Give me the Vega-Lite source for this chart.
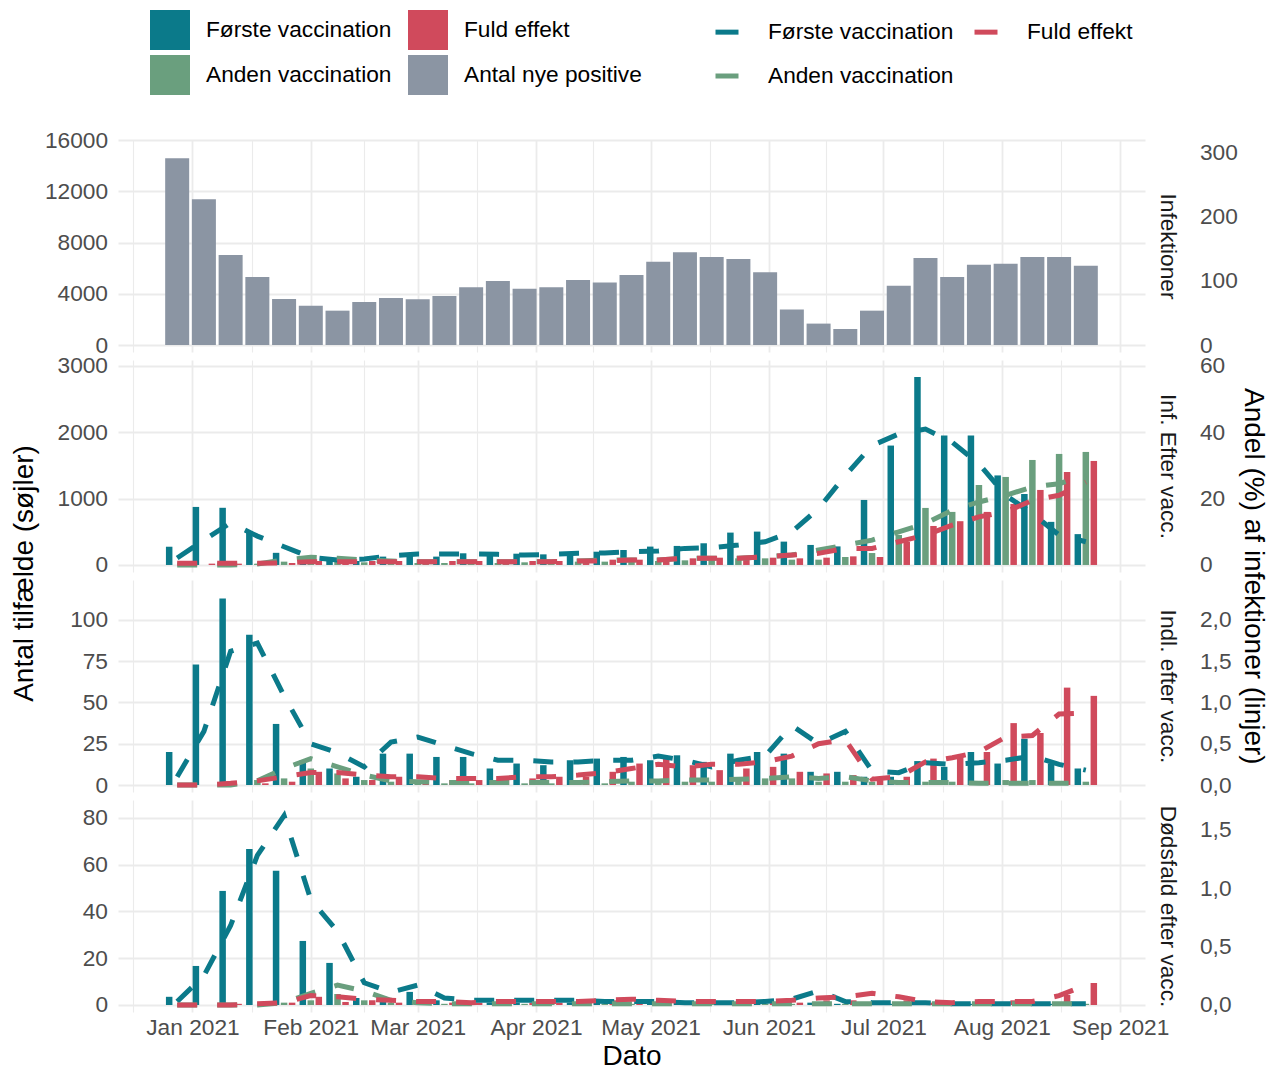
{
"$schema": "https://vega.github.io/schema/vega-lite/v6.json",
"background": "white",
"padding": {"left": 10, "top": 10, "right": 5, "bottom": 0},
"spacing": 8,
"bounds": "flush",
"title": {"text": "Andel (%) af infektioner (linjer)", "orient": "right", "anchor": "middle", "fontSize": 28, "fontWeight": "normal", "font": "Liberation Sans", "color": "#000000", "offset": 2, "dx": 36},
"resolve": {"scale": {"color": "shared", "stroke": "shared", "y": "independent", "x": "independent"}, "legend": {"color": "shared", "stroke": "shared"}},
"config": {
  "view": {"stroke": null},
  "font": "Liberation Sans",
  "axis": {"labelFont": "Liberation Sans", "labelFontSize": 22.7, "labelColor": "#4D4D4D", "domain": false, "ticks": false, "tickSize": 0, "gridColor": "#EBEBEB", "titleFont": "Liberation Sans", "titleFontWeight": "normal", "titleColor": "#000000", "labelOverlap": false, "labelFlush": false}
},
"datasets": {
"bars": [
{"p":1,"c":"N","d":"2020-12-28","v":14570},{"p":1,"c":"N","d":"2021-01-04","v":11370},{"p":1,"c":"N","d":"2021-01-11","v":7030},{"p":1,"c":"N","d":"2021-01-18","v":5310},{"p":1,"c":"N","d":"2021-01-25","v":3590},{"p":1,"c":"N","d":"2021-02-01","v":3070},{"p":1,"c":"N","d":"2021-02-08","v":2680},{"p":1,"c":"N","d":"2021-02-15","v":3360},{"p":1,"c":"N","d":"2021-02-22","v":3670},{"p":1,"c":"N","d":"2021-03-01","v":3570},{"p":1,"c":"N","d":"2021-03-08","v":3830},{"p":1,"c":"N","d":"2021-03-15","v":4500},{"p":1,"c":"N","d":"2021-03-22","v":5000},{"p":1,"c":"N","d":"2021-03-29","v":4400},{"p":1,"c":"N","d":"2021-04-05","v":4500},{"p":1,"c":"N","d":"2021-04-12","v":5070},{"p":1,"c":"N","d":"2021-04-19","v":4870},{"p":1,"c":"N","d":"2021-04-26","v":5460},{"p":1,"c":"N","d":"2021-05-03","v":6500},{"p":1,"c":"N","d":"2021-05-10","v":7230},{"p":1,"c":"N","d":"2021-05-17","v":6870},{"p":1,"c":"N","d":"2021-05-24","v":6710},{"p":1,"c":"N","d":"2021-05-31","v":5670},{"p":1,"c":"N","d":"2021-06-07","v":2780},{"p":1,"c":"N","d":"2021-06-14","v":1670},{"p":1,"c":"N","d":"2021-06-21","v":1250},{"p":1,"c":"N","d":"2021-06-28","v":2680},{"p":1,"c":"N","d":"2021-07-05","v":4630},{"p":1,"c":"N","d":"2021-07-12","v":6790},{"p":1,"c":"N","d":"2021-07-19","v":5310},{"p":1,"c":"N","d":"2021-07-26","v":6270},{"p":1,"c":"N","d":"2021-08-02","v":6350},{"p":1,"c":"N","d":"2021-08-09","v":6870},{"p":1,"c":"N","d":"2021-08-16","v":6870},{"p":1,"c":"N","d":"2021-08-23","v":6190},

{"p":2,"c":"F","d":"2020-12-28","v":275},{"p":2,"c":"F","d":"2021-01-04","v":875},{"p":2,"c":"F","d":"2021-01-11","v":862},{"p":2,"c":"F","d":"2021-01-18","v":510},{"p":2,"c":"F","d":"2021-01-25","v":183},{"p":2,"c":"F","d":"2021-02-01","v":100},{"p":2,"c":"F","d":"2021-02-08","v":75},{"p":2,"c":"F","d":"2021-02-15","v":60},{"p":2,"c":"F","d":"2021-02-22","v":126},{"p":2,"c":"F","d":"2021-03-01","v":176},{"p":2,"c":"F","d":"2021-03-08","v":126},{"p":2,"c":"F","d":"2021-03-15","v":176},{"p":2,"c":"F","d":"2021-03-22","v":150},{"p":2,"c":"F","d":"2021-03-29","v":170},{"p":2,"c":"F","d":"2021-04-05","v":160},{"p":2,"c":"F","d":"2021-04-12","v":186},{"p":2,"c":"F","d":"2021-04-19","v":200},{"p":2,"c":"F","d":"2021-04-26","v":226},{"p":2,"c":"F","d":"2021-05-03","v":277},{"p":2,"c":"F","d":"2021-05-10","v":287},{"p":2,"c":"F","d":"2021-05-17","v":327},{"p":2,"c":"F","d":"2021-05-24","v":488},{"p":2,"c":"F","d":"2021-05-31","v":503},{"p":2,"c":"F","d":"2021-06-07","v":352},{"p":2,"c":"F","d":"2021-06-14","v":302},{"p":2,"c":"F","d":"2021-06-21","v":280},{"p":2,"c":"F","d":"2021-06-28","v":980},{"p":2,"c":"F","d":"2021-07-05","v":1800},{"p":2,"c":"F","d":"2021-07-12","v":2835},{"p":2,"c":"F","d":"2021-07-19","v":1950},{"p":2,"c":"F","d":"2021-07-26","v":1950},{"p":2,"c":"F","d":"2021-08-02","v":1350},{"p":2,"c":"F","d":"2021-08-09","v":1070},{"p":2,"c":"F","d":"2021-08-16","v":650},{"p":2,"c":"F","d":"2021-08-23","v":465},

{"p":2,"c":"A","d":"2020-12-28","v":0},{"p":2,"c":"A","d":"2021-01-04","v":0},{"p":2,"c":"A","d":"2021-01-11","v":5},{"p":2,"c":"A","d":"2021-01-18","v":20},{"p":2,"c":"A","d":"2021-01-25","v":50},{"p":2,"c":"A","d":"2021-02-01","v":90},{"p":2,"c":"A","d":"2021-02-08","v":60},{"p":2,"c":"A","d":"2021-02-15","v":40},{"p":2,"c":"A","d":"2021-02-22","v":30},{"p":2,"c":"A","d":"2021-03-01","v":30},{"p":2,"c":"A","d":"2021-03-08","v":30},{"p":2,"c":"A","d":"2021-03-15","v":30},{"p":2,"c":"A","d":"2021-03-22","v":30},{"p":2,"c":"A","d":"2021-03-29","v":40},{"p":2,"c":"A","d":"2021-04-05","v":40},{"p":2,"c":"A","d":"2021-04-12","v":50},{"p":2,"c":"A","d":"2021-04-19","v":50},{"p":2,"c":"A","d":"2021-04-26","v":50},{"p":2,"c":"A","d":"2021-05-03","v":60},{"p":2,"c":"A","d":"2021-05-10","v":70},{"p":2,"c":"A","d":"2021-05-17","v":80},{"p":2,"c":"A","d":"2021-05-24","v":100},{"p":2,"c":"A","d":"2021-05-31","v":100},{"p":2,"c":"A","d":"2021-06-07","v":80},{"p":2,"c":"A","d":"2021-06-14","v":80},{"p":2,"c":"A","d":"2021-06-21","v":120},{"p":2,"c":"A","d":"2021-06-28","v":180},{"p":2,"c":"A","d":"2021-07-05","v":452},{"p":2,"c":"A","d":"2021-07-12","v":860},{"p":2,"c":"A","d":"2021-07-19","v":800},{"p":2,"c":"A","d":"2021-07-26","v":1206},{"p":2,"c":"A","d":"2021-08-02","v":1327},{"p":2,"c":"A","d":"2021-08-09","v":1583},{"p":2,"c":"A","d":"2021-08-16","v":1674},{"p":2,"c":"A","d":"2021-08-23","v":1704},

{"p":2,"c":"E","d":"2020-12-28","v":20},{"p":2,"c":"E","d":"2021-01-04","v":20},{"p":2,"c":"E","d":"2021-01-11","v":20},{"p":2,"c":"E","d":"2021-01-18","v":20},{"p":2,"c":"E","d":"2021-01-25","v":30},{"p":2,"c":"E","d":"2021-02-01","v":60},{"p":2,"c":"E","d":"2021-02-08","v":70},{"p":2,"c":"E","d":"2021-02-15","v":60},{"p":2,"c":"E","d":"2021-02-22","v":60},{"p":2,"c":"E","d":"2021-03-01","v":60},{"p":2,"c":"E","d":"2021-03-08","v":60},{"p":2,"c":"E","d":"2021-03-15","v":60},{"p":2,"c":"E","d":"2021-03-22","v":60},{"p":2,"c":"E","d":"2021-03-29","v":60},{"p":2,"c":"E","d":"2021-04-05","v":60},{"p":2,"c":"E","d":"2021-04-12","v":70},{"p":2,"c":"E","d":"2021-04-19","v":80},{"p":2,"c":"E","d":"2021-04-26","v":80},{"p":2,"c":"E","d":"2021-05-03","v":90},{"p":2,"c":"E","d":"2021-05-10","v":100},{"p":2,"c":"E","d":"2021-05-17","v":110},{"p":2,"c":"E","d":"2021-05-24","v":110},{"p":2,"c":"E","d":"2021-05-31","v":110},{"p":2,"c":"E","d":"2021-06-07","v":100},{"p":2,"c":"E","d":"2021-06-14","v":110},{"p":2,"c":"E","d":"2021-06-21","v":130},{"p":2,"c":"E","d":"2021-06-28","v":120},{"p":2,"c":"E","d":"2021-07-05","v":347},{"p":2,"c":"E","d":"2021-07-12","v":588},{"p":2,"c":"E","d":"2021-07-19","v":660},{"p":2,"c":"E","d":"2021-07-26","v":800},{"p":2,"c":"E","d":"2021-08-02","v":920},{"p":2,"c":"E","d":"2021-08-09","v":1131},{"p":2,"c":"E","d":"2021-08-16","v":1402},{"p":2,"c":"E","d":"2021-08-23","v":1568},

{"p":3,"c":"F","d":"2020-12-28","v":20},{"p":3,"c":"F","d":"2021-01-04","v":73},{"p":3,"c":"F","d":"2021-01-11","v":113},{"p":3,"c":"F","d":"2021-01-18","v":91},{"p":3,"c":"F","d":"2021-01-25","v":37},{"p":3,"c":"F","d":"2021-02-01","v":15},{"p":3,"c":"F","d":"2021-02-08","v":10},{"p":3,"c":"F","d":"2021-02-15","v":5},{"p":3,"c":"F","d":"2021-02-22","v":19},{"p":3,"c":"F","d":"2021-03-01","v":19},{"p":3,"c":"F","d":"2021-03-08","v":17},{"p":3,"c":"F","d":"2021-03-15","v":17},{"p":3,"c":"F","d":"2021-03-22","v":10},{"p":3,"c":"F","d":"2021-03-29","v":13},{"p":3,"c":"F","d":"2021-04-05","v":12},{"p":3,"c":"F","d":"2021-04-12","v":15},{"p":3,"c":"F","d":"2021-04-19","v":16},{"p":3,"c":"F","d":"2021-04-26","v":17},{"p":3,"c":"F","d":"2021-05-03","v":15},{"p":3,"c":"F","d":"2021-05-10","v":18},{"p":3,"c":"F","d":"2021-05-17","v":14},{"p":3,"c":"F","d":"2021-05-24","v":19},{"p":3,"c":"F","d":"2021-05-31","v":20},{"p":3,"c":"F","d":"2021-06-07","v":19},{"p":3,"c":"F","d":"2021-06-14","v":8},{"p":3,"c":"F","d":"2021-06-21","v":8},{"p":3,"c":"F","d":"2021-06-28","v":5},{"p":3,"c":"F","d":"2021-07-05","v":5},{"p":3,"c":"F","d":"2021-07-12","v":14.5},{"p":3,"c":"F","d":"2021-07-19","v":11},{"p":3,"c":"F","d":"2021-07-26","v":20},{"p":3,"c":"F","d":"2021-08-02","v":13},{"p":3,"c":"F","d":"2021-08-09","v":28},{"p":3,"c":"F","d":"2021-08-16","v":13},{"p":3,"c":"F","d":"2021-08-23","v":10},

{"p":3,"c":"A","d":"2020-12-28","v":0},{"p":3,"c":"A","d":"2021-01-04","v":0},{"p":3,"c":"A","d":"2021-01-11","v":1},{"p":3,"c":"A","d":"2021-01-18","v":3},{"p":3,"c":"A","d":"2021-01-25","v":4},{"p":3,"c":"A","d":"2021-02-01","v":10},{"p":3,"c":"A","d":"2021-02-08","v":7},{"p":3,"c":"A","d":"2021-02-15","v":3},{"p":3,"c":"A","d":"2021-02-22","v":2},{"p":3,"c":"A","d":"2021-03-01","v":2},{"p":3,"c":"A","d":"2021-03-08","v":1},{"p":3,"c":"A","d":"2021-03-15","v":1},{"p":3,"c":"A","d":"2021-03-22","v":1},{"p":3,"c":"A","d":"2021-03-29","v":1},{"p":3,"c":"A","d":"2021-04-05","v":1},{"p":3,"c":"A","d":"2021-04-12","v":1},{"p":3,"c":"A","d":"2021-04-19","v":1},{"p":3,"c":"A","d":"2021-04-26","v":2},{"p":3,"c":"A","d":"2021-05-03","v":2},{"p":3,"c":"A","d":"2021-05-10","v":2},{"p":3,"c":"A","d":"2021-05-17","v":2},{"p":3,"c":"A","d":"2021-05-24","v":3},{"p":3,"c":"A","d":"2021-05-31","v":4},{"p":3,"c":"A","d":"2021-06-07","v":4},{"p":3,"c":"A","d":"2021-06-14","v":2},{"p":3,"c":"A","d":"2021-06-21","v":2},{"p":3,"c":"A","d":"2021-06-28","v":2},{"p":3,"c":"A","d":"2021-07-05","v":2},{"p":3,"c":"A","d":"2021-07-12","v":2},{"p":3,"c":"A","d":"2021-07-19","v":2},{"p":3,"c":"A","d":"2021-07-26","v":2},{"p":3,"c":"A","d":"2021-08-02","v":3},{"p":3,"c":"A","d":"2021-08-09","v":3},{"p":3,"c":"A","d":"2021-08-16","v":2},{"p":3,"c":"A","d":"2021-08-23","v":2},

{"p":3,"c":"E","d":"2020-12-28","v":0},{"p":3,"c":"E","d":"2021-01-04","v":0},{"p":3,"c":"E","d":"2021-01-11","v":0},{"p":3,"c":"E","d":"2021-01-18","v":1},{"p":3,"c":"E","d":"2021-01-25","v":2},{"p":3,"c":"E","d":"2021-02-01","v":8},{"p":3,"c":"E","d":"2021-02-08","v":4},{"p":3,"c":"E","d":"2021-02-15","v":3},{"p":3,"c":"E","d":"2021-02-22","v":5},{"p":3,"c":"E","d":"2021-03-01","v":3},{"p":3,"c":"E","d":"2021-03-08","v":3},{"p":3,"c":"E","d":"2021-03-15","v":3},{"p":3,"c":"E","d":"2021-03-22","v":3},{"p":3,"c":"E","d":"2021-03-29","v":4},{"p":3,"c":"E","d":"2021-04-05","v":5},{"p":3,"c":"E","d":"2021-04-12","v":5},{"p":3,"c":"E","d":"2021-04-19","v":8},{"p":3,"c":"E","d":"2021-04-26","v":13},{"p":3,"c":"E","d":"2021-05-03","v":17},{"p":3,"c":"E","d":"2021-05-10","v":12},{"p":3,"c":"E","d":"2021-05-17","v":9},{"p":3,"c":"E","d":"2021-05-24","v":10},{"p":3,"c":"E","d":"2021-05-31","v":11},{"p":3,"c":"E","d":"2021-06-07","v":8},{"p":3,"c":"E","d":"2021-06-14","v":7},{"p":3,"c":"E","d":"2021-06-21","v":6},{"p":3,"c":"E","d":"2021-06-28","v":3},{"p":3,"c":"E","d":"2021-07-05","v":5},{"p":3,"c":"E","d":"2021-07-12","v":16},{"p":3,"c":"E","d":"2021-07-19","v":17},{"p":3,"c":"E","d":"2021-07-26","v":20},{"p":3,"c":"E","d":"2021-08-02","v":37.5},{"p":3,"c":"E","d":"2021-08-09","v":31.5},{"p":3,"c":"E","d":"2021-08-16","v":59},{"p":3,"c":"E","d":"2021-08-23","v":54},

{"p":4,"c":"F","d":"2020-12-28","v":3.5},{"p":4,"c":"F","d":"2021-01-04","v":16.7},{"p":4,"c":"F","d":"2021-01-11","v":48.8},{"p":4,"c":"F","d":"2021-01-18","v":66.7},{"p":4,"c":"F","d":"2021-01-25","v":57.4},{"p":4,"c":"F","d":"2021-02-01","v":27.4},{"p":4,"c":"F","d":"2021-02-08","v":18},{"p":4,"c":"F","d":"2021-02-15","v":3},{"p":4,"c":"F","d":"2021-02-22","v":3.8},{"p":4,"c":"F","d":"2021-03-01","v":5.6},{"p":4,"c":"F","d":"2021-03-08","v":2},{"p":4,"c":"F","d":"2021-03-15","v":1},{"p":4,"c":"F","d":"2021-03-22","v":1},{"p":4,"c":"F","d":"2021-03-29","v":1},{"p":4,"c":"F","d":"2021-04-05","v":1},{"p":4,"c":"F","d":"2021-04-12","v":1},{"p":4,"c":"F","d":"2021-04-19","v":1},{"p":4,"c":"F","d":"2021-04-26","v":0.5},{"p":4,"c":"F","d":"2021-05-03","v":1},{"p":4,"c":"F","d":"2021-05-10","v":1},{"p":4,"c":"F","d":"2021-05-17","v":0.5},{"p":4,"c":"F","d":"2021-05-24","v":0.5},{"p":4,"c":"F","d":"2021-05-31","v":1},{"p":4,"c":"F","d":"2021-06-07","v":1},{"p":4,"c":"F","d":"2021-06-14","v":1},{"p":4,"c":"F","d":"2021-06-21","v":0.5},{"p":4,"c":"F","d":"2021-06-28","v":0},{"p":4,"c":"F","d":"2021-07-05","v":0.5},{"p":4,"c":"F","d":"2021-07-12","v":1},{"p":4,"c":"F","d":"2021-07-19","v":0.5},{"p":4,"c":"F","d":"2021-07-26","v":0.5},{"p":4,"c":"F","d":"2021-08-02","v":0.5},{"p":4,"c":"F","d":"2021-08-09","v":0.5},{"p":4,"c":"F","d":"2021-08-16","v":0.5},{"p":4,"c":"F","d":"2021-08-23","v":0.5},

{"p":4,"c":"A","d":"2020-12-28","v":0},{"p":4,"c":"A","d":"2021-01-04","v":0},{"p":4,"c":"A","d":"2021-01-11","v":0},{"p":4,"c":"A","d":"2021-01-18","v":0},{"p":4,"c":"A","d":"2021-01-25","v":1},{"p":4,"c":"A","d":"2021-02-01","v":2},{"p":4,"c":"A","d":"2021-02-08","v":4.7},{"p":4,"c":"A","d":"2021-02-15","v":2},{"p":4,"c":"A","d":"2021-02-22","v":1},{"p":4,"c":"A","d":"2021-03-01","v":0.5},{"p":4,"c":"A","d":"2021-03-08","v":0.5},{"p":4,"c":"A","d":"2021-03-15","v":0.5},{"p":4,"c":"A","d":"2021-03-22","v":0.5},{"p":4,"c":"A","d":"2021-03-29","v":0.5},{"p":4,"c":"A","d":"2021-04-05","v":0.5},{"p":4,"c":"A","d":"2021-04-12","v":0.5},{"p":4,"c":"A","d":"2021-04-19","v":0.5},{"p":4,"c":"A","d":"2021-04-26","v":0.5},{"p":4,"c":"A","d":"2021-05-03","v":0.5},{"p":4,"c":"A","d":"2021-05-10","v":0.5},{"p":4,"c":"A","d":"2021-05-17","v":0.5},{"p":4,"c":"A","d":"2021-05-24","v":0.5},{"p":4,"c":"A","d":"2021-05-31","v":0.5},{"p":4,"c":"A","d":"2021-06-07","v":0.5},{"p":4,"c":"A","d":"2021-06-14","v":0.5},{"p":4,"c":"A","d":"2021-06-21","v":0.5},{"p":4,"c":"A","d":"2021-06-28","v":0.5},{"p":4,"c":"A","d":"2021-07-05","v":0.5},{"p":4,"c":"A","d":"2021-07-12","v":0.5},{"p":4,"c":"A","d":"2021-07-19","v":0.5},{"p":4,"c":"A","d":"2021-07-26","v":0.5},{"p":4,"c":"A","d":"2021-08-02","v":0.5},{"p":4,"c":"A","d":"2021-08-09","v":0.5},{"p":4,"c":"A","d":"2021-08-16","v":0.5},{"p":4,"c":"A","d":"2021-08-23","v":0.5},

{"p":4,"c":"E","d":"2020-12-28","v":0},{"p":4,"c":"E","d":"2021-01-04","v":0},{"p":4,"c":"E","d":"2021-01-11","v":0.5},{"p":4,"c":"E","d":"2021-01-18","v":1},{"p":4,"c":"E","d":"2021-01-25","v":1},{"p":4,"c":"E","d":"2021-02-01","v":3.5},{"p":4,"c":"E","d":"2021-02-08","v":1.3},{"p":4,"c":"E","d":"2021-02-15","v":2},{"p":4,"c":"E","d":"2021-02-22","v":1},{"p":4,"c":"E","d":"2021-03-01","v":1},{"p":4,"c":"E","d":"2021-03-08","v":1},{"p":4,"c":"E","d":"2021-03-15","v":1},{"p":4,"c":"E","d":"2021-03-22","v":1},{"p":4,"c":"E","d":"2021-03-29","v":1},{"p":4,"c":"E","d":"2021-04-05","v":1},{"p":4,"c":"E","d":"2021-04-12","v":1},{"p":4,"c":"E","d":"2021-04-19","v":2},{"p":4,"c":"E","d":"2021-04-26","v":2},{"p":4,"c":"E","d":"2021-05-03","v":1},{"p":4,"c":"E","d":"2021-05-10","v":1},{"p":4,"c":"E","d":"2021-05-17","v":1},{"p":4,"c":"E","d":"2021-05-24","v":1},{"p":4,"c":"E","d":"2021-05-31","v":1},{"p":4,"c":"E","d":"2021-06-07","v":1},{"p":4,"c":"E","d":"2021-06-14","v":2},{"p":4,"c":"E","d":"2021-06-21","v":2},{"p":4,"c":"E","d":"2021-06-28","v":1},{"p":4,"c":"E","d":"2021-07-05","v":2},{"p":4,"c":"E","d":"2021-07-12","v":1},{"p":4,"c":"E","d":"2021-07-19","v":1},{"p":4,"c":"E","d":"2021-07-26","v":1},{"p":4,"c":"E","d":"2021-08-02","v":2},{"p":4,"c":"E","d":"2021-08-09","v":1},{"p":4,"c":"E","d":"2021-08-16","v":4.3},{"p":4,"c":"E","d":"2021-08-23","v":9.4}
],
"lines": [
{"p":2,"c":"F","d":"2020-12-28","v":2.1},{"p":2,"c":"F","d":"2021-01-04","v":7.5},{"p":2,"c":"F","d":"2021-01-11","v":12.7},{"p":2,"c":"F","d":"2021-01-18","v":8.7},{"p":2,"c":"F","d":"2021-01-25","v":5.5},{"p":2,"c":"F","d":"2021-02-01","v":2.3},{"p":2,"c":"F","d":"2021-02-08","v":1.5},{"p":2,"c":"F","d":"2021-02-15","v":1.8},{"p":2,"c":"F","d":"2021-02-22","v":2.8},{"p":2,"c":"F","d":"2021-03-01","v":3.3},{"p":2,"c":"F","d":"2021-03-08","v":3.3},{"p":2,"c":"F","d":"2021-03-15","v":3.3},{"p":2,"c":"F","d":"2021-03-22","v":3.2},{"p":2,"c":"F","d":"2021-03-29","v":3.0},{"p":2,"c":"F","d":"2021-04-05","v":3.2},{"p":2,"c":"F","d":"2021-04-12","v":3.5},{"p":2,"c":"F","d":"2021-04-19","v":3.6},{"p":2,"c":"F","d":"2021-04-26","v":4.0},{"p":2,"c":"F","d":"2021-05-03","v":4.2},{"p":2,"c":"F","d":"2021-05-10","v":5.0},{"p":2,"c":"F","d":"2021-05-17","v":5.2},{"p":2,"c":"F","d":"2021-05-24","v":6.0},{"p":2,"c":"F","d":"2021-05-31","v":7.0},{"p":2,"c":"F","d":"2021-06-07","v":10},{"p":2,"c":"F","d":"2021-06-14","v":17},{"p":2,"c":"F","d":"2021-06-21","v":27},{"p":2,"c":"F","d":"2021-06-28","v":36},{"p":2,"c":"F","d":"2021-07-05","v":39.5},{"p":2,"c":"F","d":"2021-07-12","v":41},{"p":2,"c":"F","d":"2021-07-19","v":37},{"p":2,"c":"F","d":"2021-07-26","v":30.5},{"p":2,"c":"F","d":"2021-08-02","v":21},{"p":2,"c":"F","d":"2021-08-09","v":15.5},{"p":2,"c":"F","d":"2021-08-16","v":9},{"p":2,"c":"F","d":"2021-08-23","v":7},

{"p":2,"c":"A","d":"2020-12-28","v":0},{"p":2,"c":"A","d":"2021-01-04","v":0},{"p":2,"c":"A","d":"2021-01-11","v":0},{"p":2,"c":"A","d":"2021-01-18","v":0.3},{"p":2,"c":"A","d":"2021-01-25","v":1.5},{"p":2,"c":"A","d":"2021-02-01","v":2.3},{"p":2,"c":"A","d":"2021-02-08","v":2},{"p":2,"c":"A","d":"2021-02-15","v":1.5},{"p":2,"c":"A","d":"2021-02-22","v":1.2},{"p":2,"c":"A","d":"2021-03-01","v":1},{"p":2,"c":"A","d":"2021-03-08","v":1},{"p":2,"c":"A","d":"2021-03-15","v":1},{"p":2,"c":"A","d":"2021-03-22","v":1},{"p":2,"c":"A","d":"2021-03-29","v":1},{"p":2,"c":"A","d":"2021-04-05","v":1},{"p":2,"c":"A","d":"2021-04-12","v":1.2},{"p":2,"c":"A","d":"2021-04-19","v":1.5},{"p":2,"c":"A","d":"2021-04-26","v":1.5},{"p":2,"c":"A","d":"2021-05-03","v":1.5},{"p":2,"c":"A","d":"2021-05-10","v":2},{"p":2,"c":"A","d":"2021-05-17","v":2},{"p":2,"c":"A","d":"2021-05-24","v":2},{"p":2,"c":"A","d":"2021-05-31","v":2.5},{"p":2,"c":"A","d":"2021-06-07","v":3},{"p":2,"c":"A","d":"2021-06-14","v":4.5},{"p":2,"c":"A","d":"2021-06-21","v":6},{"p":2,"c":"A","d":"2021-06-28","v":7.5},{"p":2,"c":"A","d":"2021-07-05","v":10},{"p":2,"c":"A","d":"2021-07-12","v":12.5},{"p":2,"c":"A","d":"2021-07-19","v":16.5},{"p":2,"c":"A","d":"2021-07-26","v":19},{"p":2,"c":"A","d":"2021-08-02","v":21},{"p":2,"c":"A","d":"2021-08-09","v":23.5},{"p":2,"c":"A","d":"2021-08-16","v":24.5},{"p":2,"c":"A","d":"2021-08-23","v":27},

{"p":2,"c":"E","d":"2020-12-28","v":0.5},{"p":2,"c":"E","d":"2021-01-04","v":0.5},{"p":2,"c":"E","d":"2021-01-11","v":0.5},{"p":2,"c":"E","d":"2021-01-18","v":0.5},{"p":2,"c":"E","d":"2021-01-25","v":0.6},{"p":2,"c":"E","d":"2021-02-01","v":1},{"p":2,"c":"E","d":"2021-02-08","v":1},{"p":2,"c":"E","d":"2021-02-15","v":1},{"p":2,"c":"E","d":"2021-02-22","v":1},{"p":2,"c":"E","d":"2021-03-01","v":1},{"p":2,"c":"E","d":"2021-03-08","v":1},{"p":2,"c":"E","d":"2021-03-15","v":1},{"p":2,"c":"E","d":"2021-03-22","v":1},{"p":2,"c":"E","d":"2021-03-29","v":1},{"p":2,"c":"E","d":"2021-04-05","v":1},{"p":2,"c":"E","d":"2021-04-12","v":1.2},{"p":2,"c":"E","d":"2021-04-19","v":1.2},{"p":2,"c":"E","d":"2021-04-26","v":1.5},{"p":2,"c":"E","d":"2021-05-03","v":1.5},{"p":2,"c":"E","d":"2021-05-10","v":2},{"p":2,"c":"E","d":"2021-05-17","v":2},{"p":2,"c":"E","d":"2021-05-24","v":2},{"p":2,"c":"E","d":"2021-05-31","v":2.5},{"p":2,"c":"E","d":"2021-06-07","v":3},{"p":2,"c":"E","d":"2021-06-14","v":3.5},{"p":2,"c":"E","d":"2021-06-21","v":5},{"p":2,"c":"E","d":"2021-06-28","v":5},{"p":2,"c":"E","d":"2021-07-05","v":7},{"p":2,"c":"E","d":"2021-07-12","v":9},{"p":2,"c":"E","d":"2021-07-19","v":12},{"p":2,"c":"E","d":"2021-07-26","v":14.5},{"p":2,"c":"E","d":"2021-08-02","v":16},{"p":2,"c":"E","d":"2021-08-09","v":19.5},{"p":2,"c":"E","d":"2021-08-16","v":21},{"p":2,"c":"E","d":"2021-08-23","v":25},

{"p":3,"c":"F","d":"2020-12-28","v":0.1},{"p":3,"c":"F","d":"2021-01-04","v":0.65},{"p":3,"c":"F","d":"2021-01-11","v":1.62},{"p":3,"c":"F","d":"2021-01-18","v":1.72},{"p":3,"c":"F","d":"2021-01-25","v":1.08},{"p":3,"c":"F","d":"2021-02-01","v":0.5},{"p":3,"c":"F","d":"2021-02-08","v":0.39},{"p":3,"c":"F","d":"2021-02-15","v":0.22},{"p":3,"c":"F","d":"2021-02-22","v":0.52},{"p":3,"c":"F","d":"2021-03-01","v":0.58},{"p":3,"c":"F","d":"2021-03-08","v":0.48},{"p":3,"c":"F","d":"2021-03-15","v":0.38},{"p":3,"c":"F","d":"2021-03-22","v":0.3},{"p":3,"c":"F","d":"2021-03-29","v":0.3},{"p":3,"c":"F","d":"2021-04-05","v":0.28},{"p":3,"c":"F","d":"2021-04-12","v":0.28},{"p":3,"c":"F","d":"2021-04-19","v":0.3},{"p":3,"c":"F","d":"2021-04-26","v":0.3},{"p":3,"c":"F","d":"2021-05-03","v":0.35},{"p":3,"c":"F","d":"2021-05-10","v":0.3},{"p":3,"c":"F","d":"2021-05-17","v":0.22},{"p":3,"c":"F","d":"2021-05-24","v":0.3},{"p":3,"c":"F","d":"2021-05-31","v":0.35},{"p":3,"c":"F","d":"2021-06-07","v":0.72},{"p":3,"c":"F","d":"2021-06-14","v":0.5},{"p":3,"c":"F","d":"2021-06-21","v":0.65},{"p":3,"c":"F","d":"2021-06-28","v":0.17},{"p":3,"c":"F","d":"2021-07-05","v":0.15},{"p":3,"c":"F","d":"2021-07-12","v":0.27},{"p":3,"c":"F","d":"2021-07-19","v":0.25},{"p":3,"c":"F","d":"2021-07-26","v":0.27},{"p":3,"c":"F","d":"2021-08-02","v":0.3},{"p":3,"c":"F","d":"2021-08-09","v":0.35},{"p":3,"c":"F","d":"2021-08-16","v":0.25},{"p":3,"c":"F","d":"2021-08-23","v":0.18},

{"p":3,"c":"A","d":"2020-12-28","v":0},{"p":3,"c":"A","d":"2021-01-04","v":0},{"p":3,"c":"A","d":"2021-01-11","v":0},{"p":3,"c":"A","d":"2021-01-18","v":0.05},{"p":3,"c":"A","d":"2021-01-25","v":0.2},{"p":3,"c":"A","d":"2021-02-01","v":0.32},{"p":3,"c":"A","d":"2021-02-08","v":0.22},{"p":3,"c":"A","d":"2021-02-15","v":0.12},{"p":3,"c":"A","d":"2021-02-22","v":0.05},{"p":3,"c":"A","d":"2021-03-01","v":0.04},{"p":3,"c":"A","d":"2021-03-08","v":0.03},{"p":3,"c":"A","d":"2021-03-15","v":0.03},{"p":3,"c":"A","d":"2021-03-22","v":0.03},{"p":3,"c":"A","d":"2021-03-29","v":0.03},{"p":3,"c":"A","d":"2021-04-05","v":0.03},{"p":3,"c":"A","d":"2021-04-12","v":0.03},{"p":3,"c":"A","d":"2021-04-19","v":0.04},{"p":3,"c":"A","d":"2021-04-26","v":0.05},{"p":3,"c":"A","d":"2021-05-03","v":0.05},{"p":3,"c":"A","d":"2021-05-10","v":0.06},{"p":3,"c":"A","d":"2021-05-17","v":0.06},{"p":3,"c":"A","d":"2021-05-24","v":0.07},{"p":3,"c":"A","d":"2021-05-31","v":0.08},{"p":3,"c":"A","d":"2021-06-07","v":0.1},{"p":3,"c":"A","d":"2021-06-14","v":0.08},{"p":3,"c":"A","d":"2021-06-21","v":0.1},{"p":3,"c":"A","d":"2021-06-28","v":0.05},{"p":3,"c":"A","d":"2021-07-05","v":0.03},{"p":3,"c":"A","d":"2021-07-12","v":0.03},{"p":3,"c":"A","d":"2021-07-19","v":0.03},{"p":3,"c":"A","d":"2021-07-26","v":0.02},{"p":3,"c":"A","d":"2021-08-02","v":0.02},{"p":3,"c":"A","d":"2021-08-09","v":0.02},{"p":3,"c":"A","d":"2021-08-16","v":0.02},{"p":3,"c":"A","d":"2021-08-23","v":0.02},

{"p":3,"c":"E","d":"2020-12-28","v":0},{"p":3,"c":"E","d":"2021-01-04","v":0},{"p":3,"c":"E","d":"2021-01-11","v":0.02},{"p":3,"c":"E","d":"2021-01-18","v":0.05},{"p":3,"c":"E","d":"2021-01-25","v":0.1},{"p":3,"c":"E","d":"2021-02-01","v":0.15},{"p":3,"c":"E","d":"2021-02-08","v":0.15},{"p":3,"c":"E","d":"2021-02-15","v":0.12},{"p":3,"c":"E","d":"2021-02-22","v":0.1},{"p":3,"c":"E","d":"2021-03-01","v":0.1},{"p":3,"c":"E","d":"2021-03-08","v":0.08},{"p":3,"c":"E","d":"2021-03-15","v":0.08},{"p":3,"c":"E","d":"2021-03-22","v":0.08},{"p":3,"c":"E","d":"2021-03-29","v":0.1},{"p":3,"c":"E","d":"2021-04-05","v":0.1},{"p":3,"c":"E","d":"2021-04-12","v":0.12},{"p":3,"c":"E","d":"2021-04-19","v":0.15},{"p":3,"c":"E","d":"2021-04-26","v":0.2},{"p":3,"c":"E","d":"2021-05-03","v":0.25},{"p":3,"c":"E","d":"2021-05-10","v":0.22},{"p":3,"c":"E","d":"2021-05-17","v":0.25},{"p":3,"c":"E","d":"2021-05-24","v":0.25},{"p":3,"c":"E","d":"2021-05-31","v":0.28},{"p":3,"c":"E","d":"2021-06-07","v":0.35},{"p":3,"c":"E","d":"2021-06-14","v":0.5},{"p":3,"c":"E","d":"2021-06-21","v":0.55},{"p":3,"c":"E","d":"2021-06-28","v":0.07},{"p":3,"c":"E","d":"2021-07-05","v":0.1},{"p":3,"c":"E","d":"2021-07-12","v":0.28},{"p":3,"c":"E","d":"2021-07-19","v":0.33},{"p":3,"c":"E","d":"2021-07-26","v":0.4},{"p":3,"c":"E","d":"2021-08-02","v":0.58},{"p":3,"c":"E","d":"2021-08-09","v":0.6},{"p":3,"c":"E","d":"2021-08-16","v":0.86},{"p":3,"c":"E","d":"2021-08-23","v":0.87},

{"p":4,"c":"F","d":"2020-12-28","v":0.03},{"p":4,"c":"F","d":"2021-01-04","v":0.25},{"p":4,"c":"F","d":"2021-01-11","v":0.68},{"p":4,"c":"F","d":"2021-01-18","v":1.28},{"p":4,"c":"F","d":"2021-01-25","v":1.62},{"p":4,"c":"F","d":"2021-02-01","v":0.9},{"p":4,"c":"F","d":"2021-02-08","v":0.63},{"p":4,"c":"F","d":"2021-02-15","v":0.19},{"p":4,"c":"F","d":"2021-02-22","v":0.11},{"p":4,"c":"F","d":"2021-03-01","v":0.17},{"p":4,"c":"F","d":"2021-03-08","v":0.06},{"p":4,"c":"F","d":"2021-03-15","v":0.04},{"p":4,"c":"F","d":"2021-03-22","v":0.04},{"p":4,"c":"F","d":"2021-03-29","v":0.04},{"p":4,"c":"F","d":"2021-04-05","v":0.04},{"p":4,"c":"F","d":"2021-04-12","v":0.04},{"p":4,"c":"F","d":"2021-04-19","v":0.03},{"p":4,"c":"F","d":"2021-04-26","v":0.03},{"p":4,"c":"F","d":"2021-05-03","v":0.03},{"p":4,"c":"F","d":"2021-05-10","v":0.02},{"p":4,"c":"F","d":"2021-05-17","v":0.02},{"p":4,"c":"F","d":"2021-05-24","v":0.02},{"p":4,"c":"F","d":"2021-05-31","v":0.03},{"p":4,"c":"F","d":"2021-06-07","v":0.05},{"p":4,"c":"F","d":"2021-06-14","v":0.12},{"p":4,"c":"F","d":"2021-06-21","v":0.03},{"p":4,"c":"F","d":"2021-06-28","v":0.02},{"p":4,"c":"F","d":"2021-07-05","v":0.02},{"p":4,"c":"F","d":"2021-07-12","v":0.02},{"p":4,"c":"F","d":"2021-07-19","v":0.01},{"p":4,"c":"F","d":"2021-07-26","v":0.01},{"p":4,"c":"F","d":"2021-08-02","v":0.01},{"p":4,"c":"F","d":"2021-08-09","v":0.01},{"p":4,"c":"F","d":"2021-08-16","v":0.01},{"p":4,"c":"F","d":"2021-08-23","v":0.01},

{"p":4,"c":"A","d":"2020-12-28","v":0},{"p":4,"c":"A","d":"2021-01-04","v":0},{"p":4,"c":"A","d":"2021-01-11","v":0},{"p":4,"c":"A","d":"2021-01-18","v":0},{"p":4,"c":"A","d":"2021-01-25","v":0.02},{"p":4,"c":"A","d":"2021-02-01","v":0.1},{"p":4,"c":"A","d":"2021-02-08","v":0.17},{"p":4,"c":"A","d":"2021-02-15","v":0.12},{"p":4,"c":"A","d":"2021-02-22","v":0.04},{"p":4,"c":"A","d":"2021-03-01","v":0.02},{"p":4,"c":"A","d":"2021-03-08","v":0.01},{"p":4,"c":"A","d":"2021-03-15","v":0.01},{"p":4,"c":"A","d":"2021-03-22","v":0.01},{"p":4,"c":"A","d":"2021-03-29","v":0.01},{"p":4,"c":"A","d":"2021-04-05","v":0.01},{"p":4,"c":"A","d":"2021-04-12","v":0.01},{"p":4,"c":"A","d":"2021-04-19","v":0.01},{"p":4,"c":"A","d":"2021-04-26","v":0.01},{"p":4,"c":"A","d":"2021-05-03","v":0.01},{"p":4,"c":"A","d":"2021-05-10","v":0.01},{"p":4,"c":"A","d":"2021-05-17","v":0.01},{"p":4,"c":"A","d":"2021-05-24","v":0.01},{"p":4,"c":"A","d":"2021-05-31","v":0.01},{"p":4,"c":"A","d":"2021-06-07","v":0.01},{"p":4,"c":"A","d":"2021-06-14","v":0.01},{"p":4,"c":"A","d":"2021-06-21","v":0.01},{"p":4,"c":"A","d":"2021-06-28","v":0.01},{"p":4,"c":"A","d":"2021-07-05","v":0.01},{"p":4,"c":"A","d":"2021-07-12","v":0.01},{"p":4,"c":"A","d":"2021-07-19","v":0.01},{"p":4,"c":"A","d":"2021-07-26","v":0.01},{"p":4,"c":"A","d":"2021-08-02","v":0.01},{"p":4,"c":"A","d":"2021-08-09","v":0.01},{"p":4,"c":"A","d":"2021-08-16","v":0.01},{"p":4,"c":"A","d":"2021-08-23","v":0.01},

{"p":4,"c":"E","d":"2020-12-28","v":0},{"p":4,"c":"E","d":"2021-01-04","v":0},{"p":4,"c":"E","d":"2021-01-11","v":0},{"p":4,"c":"E","d":"2021-01-18","v":0.01},{"p":4,"c":"E","d":"2021-01-25","v":0.02},{"p":4,"c":"E","d":"2021-02-01","v":0.08},{"p":4,"c":"E","d":"2021-02-08","v":0.07},{"p":4,"c":"E","d":"2021-02-15","v":0.05},{"p":4,"c":"E","d":"2021-02-22","v":0.04},{"p":4,"c":"E","d":"2021-03-01","v":0.03},{"p":4,"c":"E","d":"2021-03-08","v":0.03},{"p":4,"c":"E","d":"2021-03-15","v":0.02},{"p":4,"c":"E","d":"2021-03-22","v":0.03},{"p":4,"c":"E","d":"2021-03-29","v":0.03},{"p":4,"c":"E","d":"2021-04-05","v":0.03},{"p":4,"c":"E","d":"2021-04-12","v":0.03},{"p":4,"c":"E","d":"2021-04-19","v":0.04},{"p":4,"c":"E","d":"2021-04-26","v":0.05},{"p":4,"c":"E","d":"2021-05-03","v":0.04},{"p":4,"c":"E","d":"2021-05-10","v":0.03},{"p":4,"c":"E","d":"2021-05-17","v":0.03},{"p":4,"c":"E","d":"2021-05-24","v":0.03},{"p":4,"c":"E","d":"2021-05-31","v":0.03},{"p":4,"c":"E","d":"2021-06-07","v":0.04},{"p":4,"c":"E","d":"2021-06-14","v":0.06},{"p":4,"c":"E","d":"2021-06-21","v":0.07},{"p":4,"c":"E","d":"2021-06-28","v":0.1},{"p":4,"c":"E","d":"2021-07-05","v":0.07},{"p":4,"c":"E","d":"2021-07-12","v":0.03},{"p":4,"c":"E","d":"2021-07-19","v":0.02},{"p":4,"c":"E","d":"2021-07-26","v":0.03},{"p":4,"c":"E","d":"2021-08-02","v":0.03},{"p":4,"c":"E","d":"2021-08-09","v":0.03},{"p":4,"c":"E","d":"2021-08-16","v":0.08},{"p":4,"c":"E","d":"2021-08-23","v":0.17}
]
},
"vconcat": [
{
 "width": 1027, "height": 212,
 "encoding": {"x": {"field": "d", "type": "temporal", "scale": {"type": "utc", "padding": 0, "domain": [{"year":2020,"month":12,"date":12,"hours":12,"utc":true},{"year":2021,"month":9,"date":7,"hours":12,"utc":true}]},
   "axis": {"values": [1608120000000,1609459200000,1610798400000,1612137600000,1613347200000,1614556800000,1615896000000,1617235200000,1618531200000,1619827200000,1621166400000,1622505600000,1623801600000,1625097600000,1626436800000,1627776000000,1629115200000,1630454400000], "labels": false, "title": null, "grid": true, "gridWidth": {"condition": {"test": "utcdate(datum.value) == 1", "value": 1.8}, "value": 1.1}}}},
 "layer": [
  {"data": {"name": "bars"}, "transform": [{"filter": "datum.p == 1"}],
   "mark": {"type": "bar", "width": 24},
   "encoding": {
     "y": {"field": "v", "type": "quantitative", "scale": {"domain": [-546, 16000], "nice": false, "zero": false}, "axis": {"values": [0,4000,8000,12000,16000], "format": "d", "grid": true, "gridWidth": 1.8, "labelPadding": 10.5, "title": null}},
     "color": {"field": "c", "type": "nominal", "scale": {"domain": ["F","A","E","N"], "range": ["#0b7a8a","#6a9f7e","#d04a5c","#8b95a3"]}, "legend": {"title": null, "orient": "none", "legendX": 32, "legendY": -130, "columns": 2, "symbolType": "square", "symbolSize": 1600, "symbolStrokeWidth": 0, "symbolOpacity": 1, "labelFontSize": 22.7, "labelFont": "Liberation Sans", "labelColor": "#000000", "labelOffset": 16, "columnPadding": 16, "rowPadding": 5, "labelLimit": 400, "padding": 0, "labelExpr": "datum.label == 'F' ? 'Første vaccination' : datum.label == 'A' ? 'Anden vaccination' : datum.label == 'E' ? 'Fuld effekt' : 'Antal nye positive'"}}
   }},
  {"data": {"name": "lines"}, "transform": [{"filter": "datum.p == 1"}],
   "mark": {"type": "line", "strokeDash": [20, 20], "strokeWidth": 5, "strokeCap": "butt"},
   "encoding": {
     "y": {"field": "v", "type": "quantitative", "scale": {"domain": [-10.92, 320], "nice": false, "zero": false}, "axis": {"orient": "right", "values": [0,100,200,300], "format": "d", "grid": false, "offset": 49.5, "labelPadding": 5, "title": "Infektioner", "titleAngle": 90, "titleBaseline": "middle", "titleX": -27.5, "titleFontSize": 22.7, "titleColor": "#1A1A1A"}},
     "stroke": {"field": "c", "type": "nominal", "scale": {"domain": ["F","A","E"], "range": ["#0b7a8a","#6a9f7e","#d04a5c"]}, "legend": {"title": null, "orient": "none", "legendX": 595, "legendY": -122, "columns": 2, "symbolType": "stroke", "symbolSize": 529, "symbolStrokeWidth": 5, "labelFontSize": 22.7, "labelFont": "Liberation Sans", "labelColor": "#000000", "labelOffset": 27, "columnPadding": 10, "rowPadding": 18, "labelLimit": 400, "padding": 0, "labelExpr": "datum.label == 'F' ? 'Første vaccination' : datum.label == 'A' ? 'Anden vaccination' : 'Fuld effekt'"}}
   }}
 ],
 "resolve": {"scale": {"y": "independent"}}
},
{
 "width": 1027, "height": 212,
 "encoding": {"x": {"field": "d", "type": "temporal", "scale": {"type": "utc", "padding": 0, "domain": [{"year":2020,"month":12,"date":12,"hours":12,"utc":true},{"year":2021,"month":9,"date":7,"hours":12,"utc":true}]},
   "axis": {"values": [1608120000000,1609459200000,1610798400000,1612137600000,1613347200000,1614556800000,1615896000000,1617235200000,1618531200000,1619827200000,1621166400000,1622505600000,1623801600000,1625097600000,1626436800000,1627776000000,1629115200000,1630454400000], "labels": false, "title": null, "grid": true, "gridWidth": {"condition": {"test": "utcdate(datum.value) == 1", "value": 1.8}, "value": 1.1}}}},
 "layer": [
  {"data": {"name": "bars"}, "transform": [{"filter": "datum.p == 2"}],
   "encoding": {
     "y": {"field": "v", "type": "quantitative", "scale": {"domain": [-106, 3090], "nice": false, "zero": false}, "axis": {"values": [0,1000,2000,3000], "format": "d", "grid": true, "gridWidth": 1.8, "labelPadding": 10.5, "title": "Antal tilfælde (søjler)", "titleFontSize": 28, "titleColor": "#000000", "titleAngle": -90, "titleX": -86, "titleY": 213, "titleBaseline": "alphabetic", "titleAlign": "center"}},
     "color": {"field": "c", "type": "nominal", "scale": {"domain": ["F","A","E","N"], "range": ["#0b7a8a","#6a9f7e","#d04a5c","#8b95a3"]}, "legend": {"title": null, "orient": "none", "legendX": 32, "legendY": -130, "columns": 2, "symbolType": "square", "symbolSize": 1600, "symbolStrokeWidth": 0, "symbolOpacity": 1, "labelFontSize": 22.7, "labelFont": "Liberation Sans", "labelColor": "#000000", "labelOffset": 16, "columnPadding": 16, "rowPadding": 5, "labelLimit": 400, "padding": 0, "labelExpr": "datum.label == 'F' ? 'Første vaccination' : datum.label == 'A' ? 'Anden vaccination' : datum.label == 'E' ? 'Fuld effekt' : 'Antal nye positive'"}}
   },
   "layer": [
     {"transform": [{"filter": "datum.c == 'F'"}], "mark": {"type": "bar", "width": 6.5, "xOffset": -8}},
     {"transform": [{"filter": "datum.c == 'A'"}], "mark": {"type": "bar", "width": 6.5, "xOffset": 0}},
     {"transform": [{"filter": "datum.c == 'E'"}], "mark": {"type": "bar", "width": 6.5, "xOffset": 8}}
   ]},
  {"data": {"name": "lines"}, "transform": [{"filter": "datum.p == 2"}],
   "mark": {"type": "line", "strokeDash": [20, 20], "strokeWidth": 5, "strokeCap": "butt"},
   "encoding": {
     "y": {"field": "v", "type": "quantitative", "scale": {"domain": [-2.12, 61.8], "nice": false, "zero": false}, "axis": {"orient": "right", "values": [0,20,40,60], "format": "d", "grid": false, "offset": 49.5, "labelPadding": 5, "title": "Inf. Efter vacc.", "titleAngle": 90, "titleBaseline": "middle", "titleX": -27.5, "titleFontSize": 22.7, "titleColor": "#1A1A1A"}},
     "stroke": {"field": "c", "type": "nominal", "scale": {"domain": ["F","A","E"], "range": ["#0b7a8a","#6a9f7e","#d04a5c"]}, "legend": {"title": null, "orient": "none", "legendX": 595, "legendY": -122, "columns": 2, "symbolType": "stroke", "symbolSize": 529, "symbolStrokeWidth": 5, "labelFontSize": 22.7, "labelFont": "Liberation Sans", "labelColor": "#000000", "labelOffset": 27, "columnPadding": 10, "rowPadding": 18, "labelLimit": 400, "padding": 0, "labelExpr": "datum.label == 'F' ? 'Første vaccination' : datum.label == 'A' ? 'Anden vaccination' : 'Fuld effekt'"}}
   }}
 ],
 "resolve": {"scale": {"y": "independent"}}
},
{
 "width": 1027, "height": 212,
 "encoding": {"x": {"field": "d", "type": "temporal", "scale": {"type": "utc", "padding": 0, "domain": [{"year":2020,"month":12,"date":12,"hours":12,"utc":true},{"year":2021,"month":9,"date":7,"hours":12,"utc":true}]},
   "axis": {"values": [1608120000000,1609459200000,1610798400000,1612137600000,1613347200000,1614556800000,1615896000000,1617235200000,1618531200000,1619827200000,1621166400000,1622505600000,1623801600000,1625097600000,1626436800000,1627776000000,1629115200000,1630454400000], "labels": false, "title": null, "grid": true, "gridWidth": {"condition": {"test": "utcdate(datum.value) == 1", "value": 1.8}, "value": 1.1}}}},
 "layer": [
  {"data": {"name": "bars"}, "transform": [{"filter": "datum.p == 3"}],
   "encoding": {
     "y": {"field": "v", "type": "quantitative", "scale": {"domain": [-4.24, 124.2], "nice": false, "zero": false}, "axis": {"values": [0,25,50,75,100], "format": "d", "grid": true, "gridWidth": 1.8, "labelPadding": 10.5, "title": null}},
     "color": {"field": "c", "type": "nominal", "scale": {"domain": ["F","A","E","N"], "range": ["#0b7a8a","#6a9f7e","#d04a5c","#8b95a3"]}, "legend": {"title": null, "orient": "none", "legendX": 32, "legendY": -130, "columns": 2, "symbolType": "square", "symbolSize": 1600, "symbolStrokeWidth": 0, "symbolOpacity": 1, "labelFontSize": 22.7, "labelFont": "Liberation Sans", "labelColor": "#000000", "labelOffset": 16, "columnPadding": 16, "rowPadding": 5, "labelLimit": 400, "padding": 0, "labelExpr": "datum.label == 'F' ? 'Første vaccination' : datum.label == 'A' ? 'Anden vaccination' : datum.label == 'E' ? 'Fuld effekt' : 'Antal nye positive'"}}
   },
   "layer": [
     {"transform": [{"filter": "datum.c == 'F'"}], "mark": {"type": "bar", "width": 6.5, "xOffset": -8}},
     {"transform": [{"filter": "datum.c == 'A'"}], "mark": {"type": "bar", "width": 6.5, "xOffset": 0}},
     {"transform": [{"filter": "datum.c == 'E'"}], "mark": {"type": "bar", "width": 6.5, "xOffset": 8}}
   ]},
  {"data": {"name": "lines"}, "transform": [{"filter": "datum.p == 3"}],
   "mark": {"type": "line", "strokeDash": [20, 20], "strokeWidth": 5, "strokeCap": "butt"},
   "encoding": {
     "y": {"field": "v", "type": "quantitative", "scale": {"domain": [-0.0848, 2.484], "nice": false, "zero": false}, "axis": {"orient": "right", "values": [0,0.5,1,1.5,2], "labelExpr": "replace(format(datum.value, '.1f'), '.', ',')", "grid": false, "offset": 49.5, "labelPadding": 5, "title": "Indl. efter vacc.", "titleAngle": 90, "titleBaseline": "middle", "titleX": -27.5, "titleFontSize": 22.7, "titleColor": "#1A1A1A"}},
     "stroke": {"field": "c", "type": "nominal", "scale": {"domain": ["F","A","E"], "range": ["#0b7a8a","#6a9f7e","#d04a5c"]}, "legend": {"title": null, "orient": "none", "legendX": 595, "legendY": -122, "columns": 2, "symbolType": "stroke", "symbolSize": 529, "symbolStrokeWidth": 5, "labelFontSize": 22.7, "labelFont": "Liberation Sans", "labelColor": "#000000", "labelOffset": 27, "columnPadding": 10, "rowPadding": 18, "labelLimit": 400, "padding": 0, "labelExpr": "datum.label == 'F' ? 'Første vaccination' : datum.label == 'A' ? 'Anden vaccination' : 'Fuld effekt'"}}
   }}
 ],
 "resolve": {"scale": {"y": "independent"}}
},
{
 "width": 1027, "height": 212,
 "encoding": {"x": {"field": "d", "type": "temporal", "scale": {"type": "utc", "padding": 0, "domain": [{"year":2020,"month":12,"date":12,"hours":12,"utc":true},{"year":2021,"month":9,"date":7,"hours":12,"utc":true}]},
   "axis": {"values": [1608120000000,1609459200000,1610798400000,1612137600000,1613347200000,1614556800000,1615896000000,1617235200000,1618531200000,1619827200000,1621166400000,1622505600000,1623801600000,1625097600000,1626436800000,1627776000000,1629115200000,1630454400000], "labels": true, "labelExpr": "utcdate(datum.value) == 1 && utchours(datum.value) == 0 ? utcFormat(datum.value, '%b %Y') : ''", "labelPadding": 4, "title": "Dato", "titleFontSize": 28, "titlePadding": 4, "titleColor": "#000000", "grid": true, "gridWidth": {"condition": {"test": "utcdate(datum.value) == 1", "value": 1.8}, "value": 1.1}}}},
 "layer": [
  {"data": {"name": "bars"}, "transform": [{"filter": "datum.p == 4"}],
   "encoding": {
     "y": {"field": "v", "type": "quantitative", "scale": {"domain": [-3, 87.7], "nice": false, "zero": false}, "axis": {"values": [0,20,40,60,80], "format": "d", "grid": true, "gridWidth": 1.8, "labelPadding": 10.5, "title": null}},
     "color": {"field": "c", "type": "nominal", "scale": {"domain": ["F","A","E","N"], "range": ["#0b7a8a","#6a9f7e","#d04a5c","#8b95a3"]}, "legend": {"title": null, "orient": "none", "legendX": 32, "legendY": -130, "columns": 2, "symbolType": "square", "symbolSize": 1600, "symbolStrokeWidth": 0, "symbolOpacity": 1, "labelFontSize": 22.7, "labelFont": "Liberation Sans", "labelColor": "#000000", "labelOffset": 16, "columnPadding": 16, "rowPadding": 5, "labelLimit": 400, "padding": 0, "labelExpr": "datum.label == 'F' ? 'Første vaccination' : datum.label == 'A' ? 'Anden vaccination' : datum.label == 'E' ? 'Fuld effekt' : 'Antal nye positive'"}}
   },
   "layer": [
     {"transform": [{"filter": "datum.c == 'F'"}], "mark": {"type": "bar", "width": 6.5, "xOffset": -8}},
     {"transform": [{"filter": "datum.c == 'A'"}], "mark": {"type": "bar", "width": 6.5, "xOffset": 0}},
     {"transform": [{"filter": "datum.c == 'E'"}], "mark": {"type": "bar", "width": 6.5, "xOffset": 8}}
   ]},
  {"data": {"name": "lines"}, "transform": [{"filter": "datum.p == 4"}],
   "mark": {"type": "line", "strokeDash": [20, 20], "strokeWidth": 5, "strokeCap": "butt"},
   "encoding": {
     "y": {"field": "v", "type": "quantitative", "scale": {"domain": [-0.06, 1.754], "nice": false, "zero": false}, "axis": {"orient": "right", "values": [0,0.5,1,1.5], "labelExpr": "replace(format(datum.value, '.1f'), '.', ',')", "grid": false, "offset": 49.5, "labelPadding": 5, "title": "Dødsfald efter vacc.", "titleAngle": 90, "titleBaseline": "middle", "titleX": -27.5, "titleFontSize": 22.7, "titleColor": "#1A1A1A"}},
     "stroke": {"field": "c", "type": "nominal", "scale": {"domain": ["F","A","E"], "range": ["#0b7a8a","#6a9f7e","#d04a5c"]}, "legend": {"title": null, "orient": "none", "legendX": 595, "legendY": -122, "columns": 2, "symbolType": "stroke", "symbolSize": 529, "symbolStrokeWidth": 5, "labelFontSize": 22.7, "labelFont": "Liberation Sans", "labelColor": "#000000", "labelOffset": 27, "columnPadding": 10, "rowPadding": 18, "labelLimit": 400, "padding": 0, "labelExpr": "datum.label == 'F' ? 'Første vaccination' : datum.label == 'A' ? 'Anden vaccination' : 'Fuld effekt'"}}
   }}
 ],
 "resolve": {"scale": {"y": "independent"}}
}
]
}
